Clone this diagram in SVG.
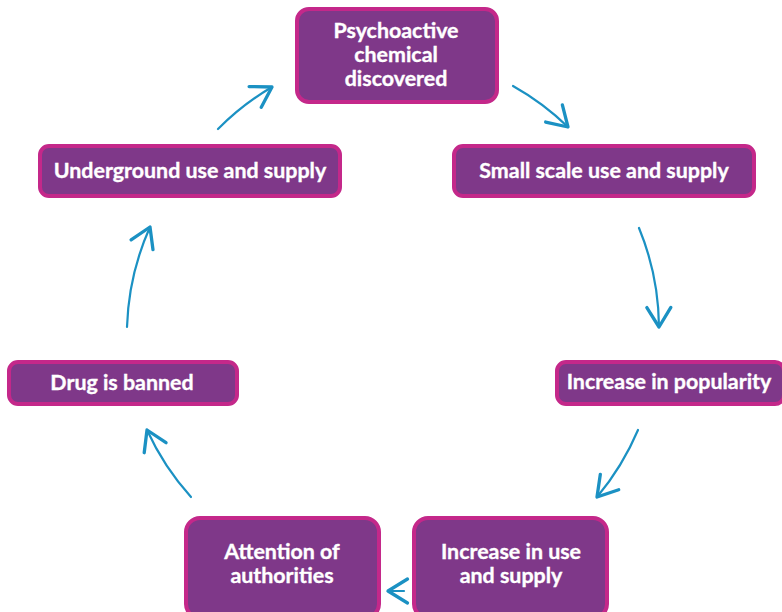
<svg xmlns="http://www.w3.org/2000/svg" width="782" height="612" viewBox="0 0 782 612">
<defs>
<style>
.box{fill:#7f3889;stroke:#c4288a;stroke-width:4}
.lbl{fill:#ffffff;stroke:#ffffff;stroke-width:0.35;font-family:Lato,"Open Sans","Liberation Sans",sans-serif;font-weight:bold;font-size:21.4px;text-anchor:middle}
.arr{fill:none;stroke:#1b91c3;stroke-width:2.2;stroke-linecap:round;marker-end:url(#head)}
</style>
<marker id="head" markerUnits="userSpaceOnUse" markerWidth="30" markerHeight="30" refX="0" refY="0" viewBox="-16 -10 20 20" orient="auto" overflow="visible">
<path d="M-13,-8 L0,0 L-13,8" fill="none" stroke="#1b91c3" stroke-width="2.2" stroke-linecap="round" stroke-linejoin="round"/>
</marker>
</defs>
<rect width="782" height="612" fill="#ffffff"/>
<g id="connectors">
<path class="arr" d="M513,86 A265,265 0 0 1 568,127"/>
<path class="arr" d="M639,228 A265,265 0 0 1 659,327"/>
<path class="arr" d="M638,430 A265,265 0 0 1 597,497"/>
<path class="arr" d="M404,591 L388,591"/>
<path class="arr" d="M191,497 A265,265 0 0 1 147,430"/>
<path class="arr" d="M127,327 A265,265 0 0 1 150,227"/>
<path class="arr" d="M218,129 A265,265 0 0 1 272,87"/>
</g>
<g id="node-psychoactive">
<rect class="box" x="297" y="9" width="200" height="93" rx="12"/>
<text class="lbl" x="396" y="38">Psychoactive</text>
<text class="lbl" x="396" y="62">chemical</text>
<text class="lbl" x="396" y="86">discovered</text>
</g>
<g id="node-small-scale">
<rect class="box" x="454" y="146" width="300" height="50" rx="9"/>
<text class="lbl" x="604" y="178">Small scale use and supply</text>
</g>
<g id="node-popularity">
<rect class="box" x="557" y="362" width="227" height="42" rx="9"/>
<text class="lbl" x="669" y="389">Increase in popularity</text>
</g>
<g id="node-increase-use">
<rect class="box" x="414" y="518" width="193" height="100" rx="14"/>
<text class="lbl" x="511" y="559">Increase in use</text>
<text class="lbl" x="511" y="583">and supply</text>
</g>
<g id="node-attention">
<rect class="box" x="186" y="518" width="193" height="100" rx="14"/>
<text class="lbl" x="282" y="559">Attention of</text>
<text class="lbl" x="282" y="583">authorities</text>
</g>
<g id="node-banned">
<rect class="box" x="9" y="362" width="228" height="42" rx="9"/>
<text class="lbl" x="122" y="390">Drug is banned</text>
</g>
<g id="node-underground">
<rect class="box" x="40" y="146" width="300" height="50" rx="9"/>
<text class="lbl" x="190" y="178">Underground use and supply</text>
</g>
</svg>
